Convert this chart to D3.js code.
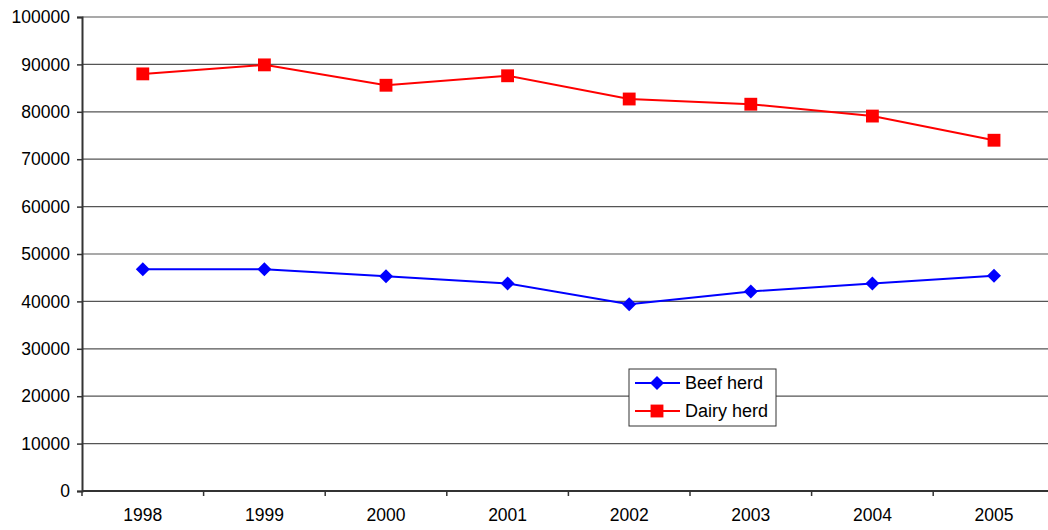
<!DOCTYPE html>
<html>
<head>
<script src="https://cdn.jsdelivr.net/npm/d3@7"></script>
<style>
  body { margin: 0; background: #fff; }
  text { font-family: "Liberation Sans", Arial, sans-serif; }
</style>
</head>
<body>
<svg width="1048" height="530"></svg>
<script>
var years = ["1998", "1999", "2000", "2001", "2002", "2003", "2004", "2005"];
var beefHerd = [46800, 46800, 45300, 43800, 39400, 42100, 43800, 45400];
var dairyHerd = [88000, 89900, 85600, 87600, 82700, 81600, 79100, 74000];
var yTicks = [0, 10000, 20000, 30000, 40000, 50000, 60000, 70000, 80000, 90000, 100000];

var svg = d3.select("svg");
var plotL = 82, plotT = 17, plotB = 491, plotR = 82 + 8 * 121.6;

var x = d3.scaleBand().domain(years).range([plotL, plotR]);
var y = d3.scaleLinear().domain([0, 100000]).range([plotB, plotT]);

// gridlines
svg.append("g").selectAll("line")
  .data(yTicks.slice(1)).enter().append("line")
  .attr("x1", plotL).attr("x2", plotR)
  .attr("y1", d => y(d)).attr("y2", d => y(d))
  .attr("stroke", "#555").attr("stroke-width", 1.2);

// y axis
var ya = svg.append("g").attr("transform", "translate(" + plotL + ",0)")
  .call(d3.axisLeft(y).tickValues(yTicks).tickSize(5).tickPadding(7).tickFormat(d3.format("d")));
ya.select(".domain").attr("stroke", "#333").attr("stroke-width", 2);
ya.selectAll(".tick line").attr("stroke", "#333").attr("stroke-width", 1.5);
ya.selectAll("text").attr("font-size", 17.5).attr("fill", "#000")
  .attr("font-family", "Liberation Sans, Arial, sans-serif");

// x axis
var xa = svg.append("g").attr("transform", "translate(0," + plotB + ")")
  .call(d3.axisBottom(x).tickSize(0).tickPadding(18));
xa.select(".domain").remove();
svg.append("line").attr("x1", plotL).attr("x2", plotR)
  .attr("y1", plotB).attr("y2", plotB)
  .attr("stroke", "#333").attr("stroke-width", 2);
svg.append("g").selectAll("line")
  .data(years).enter().append("line")
  .attr("x1", d => x(d)).attr("x2", d => x(d))
  .attr("y1", plotB).attr("y2", plotB + 5)
  .attr("stroke", "#333").attr("stroke-width", 1.5);
xa.selectAll("text").attr("font-size", 17.5).attr("fill", "#000")
  .attr("font-family", "Liberation Sans, Arial, sans-serif");

var cx = d => x(d) + x.bandwidth() / 2;
var line = d3.line().x(d => cx(d[0])).y(d => y(d[1]));

function drawSeries(vals, color, shape) {
  var pts = years.map((yr, i) => [yr, vals[i]]);
  svg.append("path").datum(pts)
    .attr("d", line).attr("fill", "none")
    .attr("stroke", color).attr("stroke-width", 2);
  svg.append("g").selectAll("path")
    .data(pts).enter().append("path")
    .attr("transform", d => "translate(" + cx(d[0]) + "," + y(d[1]) + ")")
    .attr("d", shape)
    .attr("fill", color);
}

var diamond = d3.symbol().type(d3.symbolDiamond2).size(125)();
var square = d3.symbol().type(d3.symbolSquare).size(165)();

drawSeries(beefHerd, "#0000ff", diamond);
drawSeries(dairyHerd, "#ff0000", square);

// legend
var lg = svg.append("g");
lg.append("rect").attr("x", 629).attr("y", 369).attr("width", 147).attr("height", 57)
  .attr("fill", "#fff").attr("stroke", "#333").attr("stroke-width", 1);
var legendItems = [["Beef herd", "#0000ff", diamond], ["Dairy herd", "#ff0000", square]];
legendItems.forEach(function (it, i) {
  var ly = 383 + i * 28;
  lg.append("line").attr("x1", 635).attr("x2", 680).attr("y1", ly).attr("y2", ly)
    .attr("stroke", it[1]).attr("stroke-width", 2);
  lg.append("path").attr("transform", "translate(657," + ly + ")")
    .attr("d", it[2]).attr("fill", it[1]);
  lg.append("text").attr("x", 685).attr("y", ly + 6)
    .attr("font-size", 18).text(it[0]);
});
</script>
</body>
</html>
